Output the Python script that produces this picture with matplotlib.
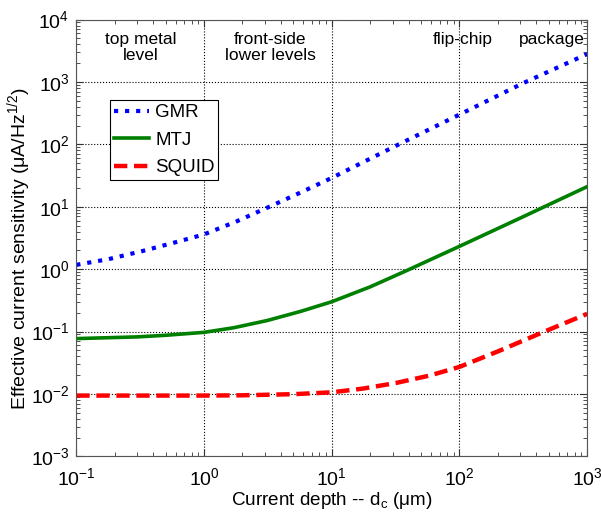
"""sensitivity vs current depth, log-log"""

import numpy as np
import matplotlib
matplotlib.use('Agg')
import matplotlib.pyplot as plt

plt.rcParams['font.family'] = ['Liberation Sans', 'DejaVu Sans']
plt.rcParams['mathtext.fontset'] = 'custom'
plt.rcParams['mathtext.rm'] = 'Liberation Sans'
plt.rcParams['mathtext.it'] = 'Liberation Sans:italic'

#%% data
depth_gmr = [0.1, 0.18, 0.33, 0.6, 1, 1.79, 3.25, 5.95, 10, 32.2, 100, 316, 1000]
sens_gmr = [1.17, 1.45, 1.95, 2.7, 3.6, 5.8, 10, 17.6, 29, 96, 300, 960, 2800]

depth_mtj = [0.1, 0.3, 0.5, 1, 1.71, 3.12, 5.7, 10, 20, 40, 100, 300, 1000]
sens_mtj = [0.077, 0.082, 0.087, 0.097, 0.115, 0.150, 0.21, 0.30, 0.52, 0.98, 2.32, 6.6, 21]

depth_squid = [0.1, 0.5, 1, 2, 5, 10, 17.7, 32, 58.5, 100, 200, 453, 1000]
sens_squid = [0.0094, 0.0094, 0.0094, 0.0095, 0.0099, 0.0106, 0.0122, 0.0150, 0.0197, 0.0271, 0.048, 0.098, 0.192]

region_labels = ['top metal\nlevel', 'front-side\nlower levels', 'flip-chip', 'package']
region_x = [0.32, 3.3, 107, 532]

#%% plot
fig = plt.figure(figsize=(6.01, 5.15), dpi=100)
ax = fig.add_axes([0.127, 0.114, 0.850, 0.848])

ax.loglog(depth_gmr, sens_gmr, color='#0000ff', ls=':', lw=3.0, label='GMR')
ax.loglog(depth_mtj, sens_mtj, color='#008000', ls='-', lw=2.6, label='MTJ')
ax.loglog(depth_squid, sens_squid, color='#ff0000', ls=(0, (3, 1.5)), lw=3.2, label='SQUID')

ax.set_xlim(0.1, 1000)
ax.set_ylim(1e-3, 1e4)
ax.grid(True, which='major', color='k', ls=':', lw=0.8)
ax.tick_params(which='both', direction='in', top=True, right=True, labelsize=14, color='#333333')
ax.tick_params(which='major', length=5)
ax.tick_params(which='minor', length=3)
ax.tick_params(axis='x', pad=8)
ax.tick_params(axis='y', pad=5)
for s in ax.spines.values():
    s.set_color('#555555')

for lab, xx in zip(region_labels, region_x):
    ax.text(xx, 6400, lab, ha='center', va='top', fontsize=12.5, linespacing=1.1)

ax.set_xlabel('Current depth -- d$_\\mathregular{c}$ ($\\mathregular{\\mu}$m)', fontsize=13.6)
ax.xaxis.set_label_coords(0.5, -0.078)
ax.set_ylabel('Effective current sensitivity ($\\mathregular{\\mu}$A/Hz$^{\\mathregular{1/2}}$)', fontsize=14)
ax.yaxis.set_label_coords(-0.084, 0.475)

leg = ax.legend(loc='upper left', bbox_to_anchor=(0.066, 0.815), fontsize=13.5, fancybox=False,
                framealpha=1, edgecolor='k', handlelength=1.9, borderpad=0.2, labelspacing=0.55,
                handletextpad=0.3, borderaxespad=0)
leg.get_frame().set_linewidth(0.8)

plt.savefig('out.png', dpi=100)
